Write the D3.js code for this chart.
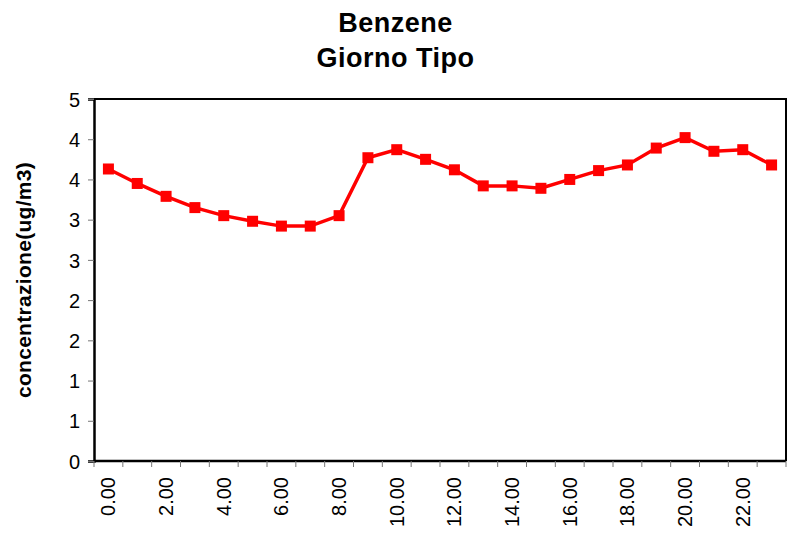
<!DOCTYPE html>
<html>
<head>
<meta charset="utf-8">
<script src="https://cdn.jsdelivr.net/npm/d3@7"></script>
<style>
  body { margin: 0; background: #fff; }
  text { font-family: "Liberation Sans", Arial, sans-serif; }
</style>
</head>
<body>
<div id="chart"></div>
<script>
const WIDTH = 791;
const HEIGHT = 536;

// Hours of the typical day (0..23)
const hours = d3.range(0, 24);
const hourLabels = hours.map(h => h.toFixed(2));
// Benzene concentration (ug/m3)
const benzene = [3.63, 3.45, 3.29, 3.15, 3.05, 2.98, 2.92, 2.92, 3.05, 3.77, 3.87, 3.75,
                 3.62, 3.42, 3.42, 3.39, 3.50, 3.61, 3.68, 3.89, 4.02, 3.85, 3.87, 3.68];
const yTicks = d3.range(0, 4.51, 0.5);
const titleLines = ["Benzene", "Giorno Tipo"];
const yTitle = "concentrazione(ug/m3)";

const margin = { top: 99, right: 5, bottom: 75, left: 94 };
const plotW = WIDTH - margin.left - margin.right;
const plotH = HEIGHT - margin.top - margin.bottom;

const svg = d3.select("#chart")
    .append("svg")
    .attr("width", WIDTH)
    .attr("height", HEIGHT);

// Title
svg.append("text")
    .attr("x", WIDTH / 2)
    .attr("y", 32)
    .attr("text-anchor", "middle")
    .style("font-size", "27px")
    .style("font-weight", "bold")
    .style("letter-spacing", "0.5px")
    .selectAll("tspan")
    .data(titleLines)
    .enter().append("tspan")
    .attr("x", WIDTH / 2)
    .attr("dy", (d, i) => i === 0 ? 0 : 35)
    .text(d => d);

const g = svg.append("g")
    .attr("transform", `translate(${margin.left}, ${margin.top})`);

const x = d3.scaleBand().domain(hours).range([0, plotW]);
const y = d3.scaleLinear().domain([0, 4.5]).range([plotH, 0]);

// Plot border (top and right)
g.append("path")
    .attr("d", `M0,0H${plotW}V${plotH}`)
    .attr("fill", "none")
    .attr("stroke", "#000")
    .attr("stroke-width", 2);

// Y axis
const yAxis = g.append("g")
    .call(d3.axisLeft(y).tickValues(yTicks).tickSize(6).tickPadding(8)
        .tickFormat(d => Math.round(d + 1e-9)));
yAxis.select(".domain").attr("stroke-width", 2.5);
yAxis.selectAll(".tick line").attr("stroke", "#777");
yAxis.selectAll("text").style("font-size", "20px").attr("fill", "#000").attr("dy", "0.36em");

// X axis: ticks between categories, labels every 2 hours
const xAxisG = g.append("g").attr("transform", `translate(0, ${plotH})`);
xAxisG.append("line")
    .attr("x1", 0).attr("x2", plotW)
    .attr("stroke", "#000").attr("stroke-width", 2.5);
xAxisG.selectAll(".xtick")
    .data(d3.range(0, 25))
    .enter().append("line")
    .attr("x1", d => d * x.bandwidth())
    .attr("x2", d => d * x.bandwidth())
    .attr("y1", 0).attr("y2", 6)
    .attr("stroke", "#777");
xAxisG.selectAll(".xlabel")
    .data(hours.filter(h => h % 2 === 0))
    .enter().append("text")
    .attr("transform", d => `translate(${x(d) + x.bandwidth() / 2 + 7}, 16) rotate(-90)`)
    .attr("text-anchor", "end")
    .style("font-size", "20px")
    .text(d => hourLabels[d]);

// Y title
svg.append("text")
    .attr("transform", `translate(31, ${margin.top + plotH / 2}) rotate(-90)`)
    .attr("text-anchor", "middle")
    .style("font-size", "21px")
    .style("font-weight", "bold")
    .style("letter-spacing", "0.3px")
    .text(yTitle);

// Line
const line = d3.line()
    .x((d, i) => x(hours[i]) + x.bandwidth() / 2)
    .y(d => y(d));

g.append("path")
    .datum(benzene)
    .attr("d", line)
    .attr("fill", "none")
    .attr("stroke", "#ff0000")
    .attr("stroke-width", 3.5);

// Square markers
const MS = 11;
g.selectAll(".marker")
    .data(benzene)
    .enter().append("rect")
    .attr("x", (d, i) => x(hours[i]) + x.bandwidth() / 2 - MS / 2)
    .attr("y", d => y(d) - MS / 2)
    .attr("width", MS)
    .attr("height", MS)
    .attr("fill", "#ff0000");
</script>
</body>
</html>
